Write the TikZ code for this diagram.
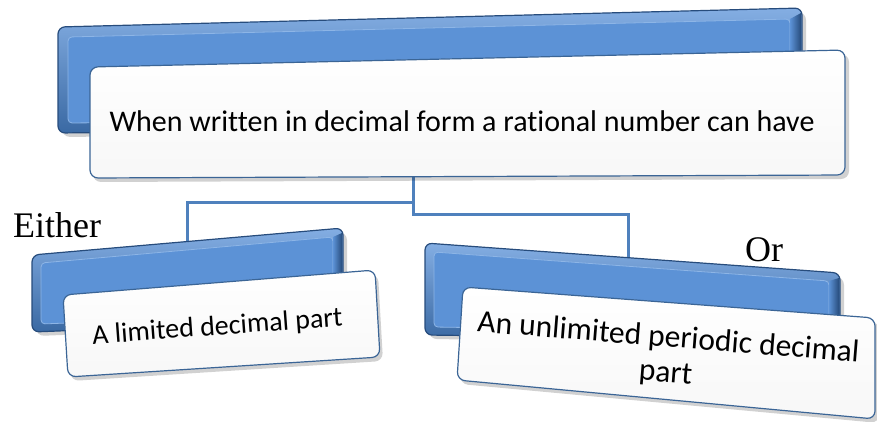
\documentclass[tikz,border=0pt]{standalone}
\usepackage{fontspec}
\setmainfont{Carlito}[Ligatures=NoCommon]
\newfontfamily\tms{Liberation Serif}
\usetikzlibrary{calc}
\definecolor{bmain}{HTML}{5C92D6}
\definecolor{btop}{HTML}{84AEE3}
\definecolor{bbot}{HTML}{3A69A3}
\definecolor{bdark}{HTML}{274C7C}
\definecolor{blight}{HTML}{8DB5E6}
\definecolor{wline}{HTML}{3B6596}
\definecolor{conn}{HTML}{4F81BD}
\tikzset{
  bluebox/.style={top color=btop, bottom color=bbot, draw=bdark, line width=1.2pt, rounded corners=7pt},
  bevel/.style={fill=bmain, draw=blight, line width=0.8pt, rounded corners=4pt},
  edgedark/.style={left color=bmain, right color=bdark, draw=none},
  shadowbox/.style={fill=black, opacity=0.18, rounded corners=8pt},
  whitebox/.style={top color=white, bottom color=black!3, draw=wline, line width=1.2pt, rounded corners=8pt},
  link/.style={draw=conn, line width=3pt},
  label/.style={inner sep=0pt, text=black},
  serif/.style={font=\tms\fontsize{36}{40}\selectfont, inner sep=0pt, text=black}
}
\begin{document}
\begin{tikzpicture}[x=1pt,y=-1pt]
\useasboundingbox (0,0) rectangle (877,421);
\clip (0,0) rectangle (877,421);

% connector anchors
\coordinate (topbot) at (413,176);
\coordinate (leftin) at (187,246);
\coordinate (rightin) at (628,262);
\draw[link] (topbot) -- ++(0,26) -| (leftin);
\draw[link] (topbot) -- ++(0,38) -| (rightin);

% ---------- top group ----------
\fill[shadowbox] (62,31) -- (806,12) -- (806,129) -- (62,137) -- cycle;
\path[bluebox] (58,27) -- (802,8) -- (802,125) -- (58,133) -- cycle;
\path[bevel] (68,37) -- (790,19) -- (790,117) -- (68,123) -- cycle;
\path[edgedark] (790,19) -- (801,13) -- (801,120) -- (790,117) -- cycle;
\fill[shadowbox] (93,71) -- (849,54) -- (849,179) -- (93,182) -- cycle;
\path[whitebox] (90,67) -- (845,50) -- (845,175) -- (90,178) -- cycle;
\node[label, font=\fontsize{30}{36}\selectfont] (t1) at (462,121) {When written in decimal form a rational number can have};

% ---------- left group ----------
\fill[shadowbox] (36,259) -- (347,232) -- (347,324) -- (36,336) -- cycle;
\path[bluebox] (32,255) -- (343,228) -- (343,320) -- (32,332) -- cycle;
\path[bevel] (41,263) -- (333,237) -- (333,313) -- (41,324) -- cycle;
\path[edgedark] (333,237) -- (342,233) -- (342,316) -- (333,313) -- cycle;
\fill[shadowbox] (66,299) -- (378,274) -- (383,361) -- (71,381) -- cycle;
\path[whitebox] (63,295) -- (375,270) -- (380,357) -- (68,377) -- cycle;
\node[label, font=\fontsize{28}{34}\selectfont, rotate=4.2, anchor=base] (t2) at (218,335) {A limited decimal part};

% ---------- right group ----------
\fill[shadowbox] (429,247) -- (844,277) -- (844,344) -- (429,339) -- cycle;
\path[bluebox] (425,243) -- (840,273) -- (840,340) -- (425,335) -- cycle;
\path[bevel] (434,252) -- (829,281) -- (829,333) -- (434,327) -- cycle;
\path[edgedark] (829,281) -- (839,278) -- (839,336) -- (829,333) -- cycle;
\fill[shadowbox] (466,291) -- (879,322) -- (879,423) -- (460,384) -- cycle;
\path[whitebox] (463,287) -- (875,318) -- (875,419) -- (457,380) -- cycle;
\node[label, font=\fontsize{31.5}{35}\selectfont, rotate=-4.6, align=center] (t3) at (667,356) {An unlimited periodic decimal\\part};

% ---------- side words ----------
\node[serif, anchor=base west] (either) at (13,237) {Either};
\node[serif, anchor=base west, fill=white, inner xsep=2pt, inner ysep=2pt] (or) at (743,261) {Or};
\end{tikzpicture}
\end{document}
